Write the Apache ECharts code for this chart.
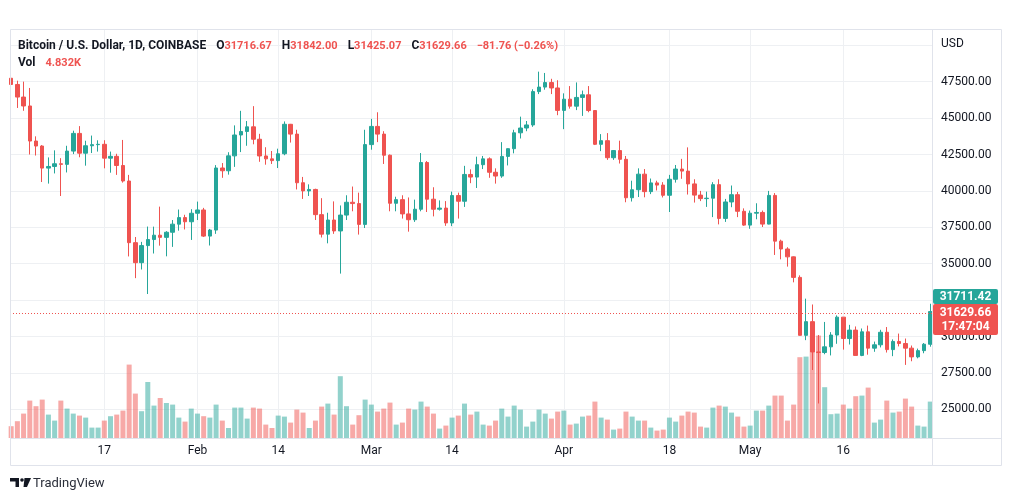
<!DOCTYPE html>
<html><head><meta charset="utf-8">
<script src="https://cdn.jsdelivr.net/npm/echarts@6/dist/echarts.min.js"></script>
<style>html,body{margin:0;padding:0;background:#fff}#c{width:1012px;height:501px}</style>
</head><body><div id="c"></div>
<script>
// ---- data (daily, BTC/USD Coinbase, 2022-01-02 .. 2022-05-30) ----
const startDate = '2022-01-02';
const opens = [
47738,47311,46446,45833,43425,43082,41566,41679,41864,41822,42735,43949,42591,43099,43177,43200,42250,42375,41744,40680,36445,35071,36244,36660,36958,36809,37160,37716,38166,37881,
38466,38690,36896,37311,41574,41382,42406,43840,44081,44400,43548,42400,42200,42080,42550,44575,43900,40560,40000,40100,38370,37030,38000,37250,38340,39220,39130,37700,
43180,44430,43900,42450,39150,39400,38420,38020,38740,41950,39430,38740,38820,37800,39680,39290,41130,40950,41800,42200,41280,41020,42370,42900,43990,44320,44530,46820,47130,47440,47070,
45530,46300,45820,46420,46600,45520,43200,43450,42280,42770,42170,39530,40080,41150,39950,40550,40400,39700,40800,41500,41360,40480,39710,39470,39500,40430,38110,39240,39740,38600,
37650,38470,38520,37720,39690,36550,36010,35470,34060,30080,31020,28940,28900,29290,30100,31330,29860,30440,28700,30320,29200,29430,30290,29100,29660,29520,29200,28600,29030,29470];
const highs = [
47990,47570,47505,47070,43748,43145,42300,42786,42249,43100,44135,44450,43446,43800,43476,43480,42700,42550,43500,41100,36835,36500,37550,37545,38920,37234,38000,38720,38360,38744,
39265,38835,37387,41772,41913,42656,44500,45500,44798,45821,43920,43000,42740,42900,44770,44600,44200,40960,40450,40150,39500,38500,39280,39000,39700,40300,39880,44200,
44950,45400,44100,42500,39600,39700,39550,39400,42600,42050,40250,39350,39300,39950,39880,41720,41480,42350,42400,42300,41550,43350,42880,44200,45100,44800,46980,48190,48100,47700,47600,
46700,47200,47450,46890,47200,45520,43900,43970,42800,43450,42400,40700,41550,41500,40850,40700,40600,41100,41780,42200,42990,40800,40000,39950,40600,40800,39450,40370,39930,38800,
38650,39150,38650,40000,39850,36650,36130,35500,34200,32600,32200,30100,31000,30300,31450,31330,30800,30690,30550,30750,29650,30460,30650,29800,30200,29860,29380,29170,29550,32250];
const lows = [
46654,45696,45502,42500,42430,40610,40501,41200,39650,41268,42528,42311,41733,42600,42700,41550,41250,41100,40570,35500,34008,34601,32917,35700,36240,35507,36155,37268,37351,36632,
38000,36832,36250,37050,40900,41117,41650,42666,43100,43200,42000,41800,41850,41570,42450,43320,40100,39450,39650,38000,36800,36400,37050,34320,38000,38600,37000,37450,
42830,43350,41850,38600,38600,38100,37200,37870,38600,38550,38250,38650,37600,37580,38100,38900,40530,40200,41500,40900,40500,40900,41750,42580,43600,44100,44400,46650,46950,46650,45200,
44240,45650,45550,45150,45400,43150,42730,42130,42130,41880,39220,39270,39580,39560,39780,40030,39550,38550,40570,40830,39750,39200,39300,38900,38200,37700,37870,38880,38200,37600,
37400,38050,37520,37700,35600,35300,34800,33720,30070,29750,27700,25400,28780,28700,29500,29100,29450,28700,28650,28750,28950,29250,28900,28650,29320,28050,28300,28500,28850,29300];
const closes = [
47311,46446,45833,43425,43082,41566,41679,41864,41822,42735,43949,42591,43099,43177,43200,42250,42375,41744,40680,36445,35071,36244,36660,36958,36809,37160,37716,38166,37881,38466,
38690,36896,37311,41574,41382,42406,43840,44081,44400,43548,42400,42200,42080,42550,44575,43900,40560,40000,40100,38370,37030,38000,37250,38340,39220,39130,37700,43180,
44430,43900,42450,39150,39400,38420,38020,38740,41950,39430,38740,38820,37800,39680,39290,41130,40950,41800,42200,41280,41020,42370,42900,43990,44320,44530,46820,47130,47440,47070,45530,
46300,45820,46420,46600,45520,43200,43450,42280,42770,42170,39530,40080,41150,39950,40550,40400,39700,40800,41500,41360,40480,39710,39470,39500,40430,38110,39240,39740,38600,37650,
38470,38520,37720,39690,36550,36010,35470,34060,30080,31020,28940,28900,29290,30100,31330,29860,30440,28700,30320,29200,29430,30290,29100,29660,29520,29200,28600,29030,29470,31711.42];
// volume in thousands of BTC
const volumesK = [
5.9,8.4,12.2,18.7,15.9,19.2,11.7,8.7,18.7,14.7,12.2,11.2,10.2,5.2,5.2,8.7,10.9,11.7,13.7,36.7,22.2,13.4,28.0,16.2,20.0,17.5,16.7,10.2,8.2,14.7,
12.2,10.9,10.2,16.7,8.7,5.0,15.2,15.2,9.7,15.2,14.7,6.7,5.0,11.2,10.7,7.7,14.2,12.7,5.0,8.7,15.7,17.2,11.7,30.9,15.9,6.7,11.4,19.2,
16.7,13.2,14.7,17.7,6.7,7.7,14.7,14.2,18.2,15.7,12.2,4.7,6.2,10.2,11.2,17.2,11.7,13.2,6.7,6.2,8.7,14.7,10.7,16.2,14.2,5.7,8.2,14.2,12.2,9.7,13.2,
13.7,6.7,7.2,10.7,11.2,18.2,10.2,9.2,4.2,4.7,13.2,10.7,8.7,8.7,5.2,3.7,4.2,10.2,8.2,11.2,13.2,12.7,5.7,5.2,15.2,16.2,15.7,12.7,10.7,5.7,
6.2,13.7,13.7,16.2,21.2,21.2,8.7,16.7,40.4,40.7,51.2,51.2,25.4,11.9,12.2,16.7,14.7,20.9,21.2,25.2,7.7,9.2,18.7,12.7,13.2,19.7,15.7,6.2,5.7,18.2];
const tickDates = ['2022-01-17','2022-02-01','2022-02-14','2022-03-01','2022-03-14','2022-04-01','2022-04-18','2022-05-01','2022-05-16'];
const tickLabels = ['17','Feb','14','Mar','14','Apr','18','May','16'];
const priceGridTicks = [25000,27500,30000,32500,35000,37500,40000,42500,45000,47500,50000];
const priceLabelTicks = [25000,27500,30000,32500,35000,37500,40000,42500,45000,47500];
// current (last) bar shown in the legend
const lastOHLC = [31716.67, 31842.00, 31425.07, 31629.66];
const prevClose = 31711.42;
const lastVolK = 4.832;
const countdown = '17:47:04';

// ---- build ----
const FONT = 'Roboto, "Noto Sans", sans-serif';
const UP = '#26a69a', DOWN = '#ef5350';
const UPV = 'rgba(38,166,154,0.5)', DOWNV = 'rgba(239,83,80,0.5)';
const GRID = '#eef0f3', BORDER = '#e0e3eb', TXT = '#131722';
const DAY0 = Date.parse('2022-01-01');
const dayIdx = s => Math.round((Date.parse(s) - DAY0) / 864e5);
const d0 = dayIdx(startDate);
const candleData = opens.map((o, i) => [d0 + i, o, closes[i], lows[i], highs[i]]);
const volData = volumesK.map((v, i) => ({ value: [d0 + i, v], itemStyle: { color: closes[i] >= opens[i] ? UPV : DOWNV } }));
const tickIdx = tickDates.map(dayIdx);
const tickMap = {}; tickIdx.forEach((t, i) => tickMap[t] = tickLabels[i]);
const fmt = v => v.toFixed(2);
const chg = lastOHLC[3] - prevClose;
const chgPct = chg / prevClose * 100;
const sgn = v => (v < 0 ? '\u2212' : '+') + Math.abs(v).toFixed(2);

const richStyles = {
  t: { color: TXT, fontSize: 12, fontFamily: FONT, lineHeight: 16 },
  v: { color: DOWN, fontSize: 11, fontFamily: FONT, lineHeight: 16 }
};

const chart = echarts.init(document.getElementById('c'));
chart.setOption({
  animation: false,
  backgroundColor: '#fff',
  title: [{
    left: 18, top: 37, padding: 0,
    text: `{t|Bitcoin / U.S. Dollar, 1D, COINBASE}  {t|O}{v|${fmt(lastOHLC[0])}}  {t|H}{v|${fmt(lastOHLC[1])}}  {t|L}{v|${fmt(lastOHLC[2])}}  {t|C}{v|${fmt(lastOHLC[3])}}  {v|${sgn(chg)} (${sgn(chgPct)}%)}`,
    textStyle: { rich: richStyles }
  }, {
    left: 18, top: 54, padding: 0,
    text: `{t|Vol}  {v|${lastVolK.toFixed(3)}K}`,
    textStyle: { rich: richStyles }
  }],
  grid: { left: 10, right: 80, top: 30, bottom: 63, containLabel: false },
  xAxis: {
    type: 'value', min: 0.813, max: 149.28,
    axisLine: { show: false },
    axisTick: { show: false, customValues: tickIdx },
    axisLabel: { customValues: tickIdx, formatter: v => tickMap[Math.round(v)] || '', color: TXT, fontSize: 12, fontFamily: FONT, margin: 7 },
    splitLine: { show: true, lineStyle: { color: GRID, width: 1 } }
  },
  yAxis: [{
    type: 'value', position: 'right', min: 23029, max: 51051,
    axisLine: { show: false },
    axisTick: { show: false, customValues: priceGridTicks },
    axisLabel: { customValues: priceLabelTicks, formatter: v => fmt(v), color: TXT, fontSize: 12, fontFamily: FONT, margin: 9 },
    splitLine: { show: true, lineStyle: { color: GRID, width: 1 } }
  }, {
    type: 'value', min: 0, max: 204, show: false, splitLine: { show: false }
  }],
  series: [{
    type: 'bar', yAxisIndex: 1, data: volData, barWidth: 5, z: 1, silent: true
  }, {
    type: 'candlestick', yAxisIndex: 0, data: candleData, z: 3, silent: true,
    dimensions: ['t', 'open', 'close', 'lowest', 'highest'],
    encode: { x: 0, y: [1, 2, 3, 4] },
    barWidth: 4,
    itemStyle: { color: UP, color0: DOWN, borderColor: UP, borderColor0: DOWN, borderWidth: 1 },
    markLine: {
      silent: true, symbol: ['none', 'none'], label: { show: false },
      lineStyle: { color: DOWN, type: [1, 2], width: 1 },
      data: [{ yAxis: lastOHLC[3] }]
    }
  }]
});

const yLast = chart.convertToPixel({ yAxisIndex: 0 }, lastOHLC[3]);
const gridRight = chart.getWidth() - 80;
const redTop = Math.round(yLast - 9);
const boxW = 65;
chart.setOption({
  graphic: [
    { type: 'rect', shape: { x: 10.5, y: 29.5, width: 991, height: 436 }, style: { fill: 'none', stroke: BORDER, lineWidth: 1 }, silent: true, z: 10 },
    { type: 'line', shape: { x1: gridRight + 0.5, y1: 30, x2: gridRight + 0.5, y2: 465 }, style: { stroke: BORDER, lineWidth: 1 }, silent: true, z: 10 },
    { type: 'line', shape: { x1: 10, y1: 438.5, x2: 1001, y2: 438.5 }, style: { stroke: BORDER, lineWidth: 1 }, silent: true, z: 10 },
    { type: 'text', x: 941, y: 44, style: { text: 'USD', fill: TXT, font: '12px ' + FONT, verticalAlign: 'middle' }, silent: true, z: 10 },
    // price labels
    { type: 'rect', shape: { x: gridRight + 1, y: redTop - 15, width: boxW, height: 15, r: 2 }, style: { fill: UP }, silent: true, z: 20 },
    { type: 'text', x: gridRight + 1 + boxW / 2, y: redTop - 7.5, style: { text: fmt(prevClose), fill: '#fff', font: 'bold 12px ' + FONT, align: 'center', verticalAlign: 'middle' }, silent: true, z: 21 },
    { type: 'rect', shape: { x: gridRight + 1, y: redTop, width: boxW, height: 31, r: 2 }, style: { fill: DOWN }, silent: true, z: 20 },
    { type: 'text', x: gridRight + 1 + boxW / 2, y: redTop + 8.5, style: { text: fmt(lastOHLC[3]), fill: '#fff', font: 'bold 12px ' + FONT, align: 'center', verticalAlign: 'middle' }, silent: true, z: 21 },
    { type: 'text', x: gridRight + 1 + boxW / 2, y: redTop + 23, style: { text: countdown, fill: '#fff', font: 'bold 12px ' + FONT, align: 'center', verticalAlign: 'middle' }, silent: true, z: 21 },
    // TradingView logo
    { type: 'rect', shape: { x: 10, y: 478, width: 9, height: 3.5 }, style: { fill: '#131722' }, silent: true },
    { type: 'rect', shape: { x: 15.5, y: 478, width: 3.5, height: 9 }, style: { fill: '#131722' }, silent: true },
    { type: 'circle', shape: { cx: 22, cy: 480, r: 1.8 }, style: { fill: '#131722' }, silent: true },
    { type: 'polygon', shape: { points: [[24.5, 478], [31, 478], [27, 487], [23.5, 487]] }, style: { fill: '#131722' }, silent: true },
    { type: 'text', x: 33, y: 483.5, style: { text: 'TradingView', fill: '#2a2e39', font: '13px ' + FONT, verticalAlign: 'middle' }, silent: true }
  ]
});
</script></body></html>
